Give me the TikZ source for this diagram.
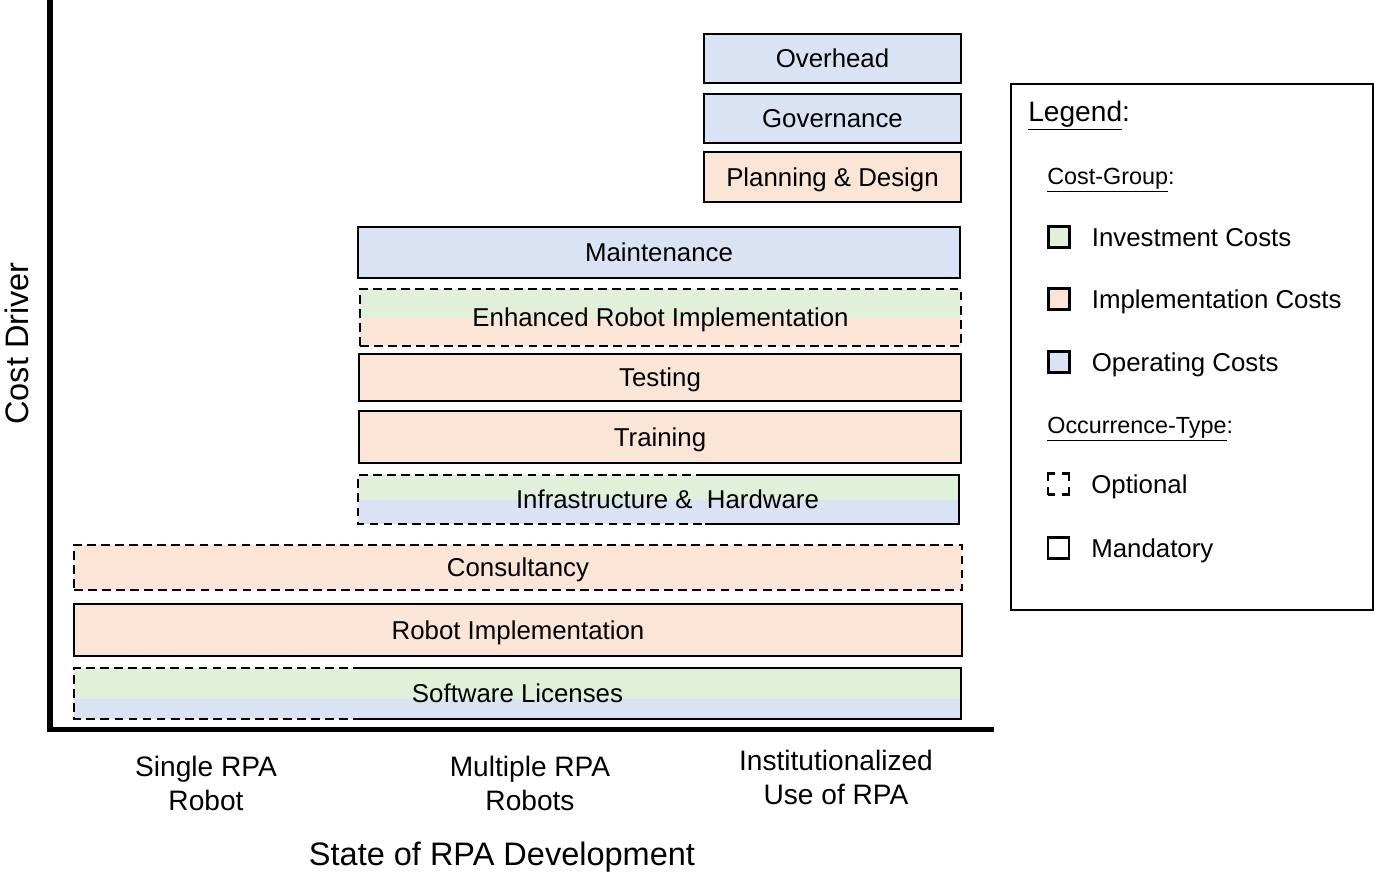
\documentclass[tikz,border=0pt]{standalone}
\usepackage{fontspec}
\setmainfont{Liberation Sans}
\usetikzlibrary{positioning,backgrounds}
\definecolor{investgreen}{HTML}{E2F0D9}
\definecolor{implorange}{HTML}{FBE5D6}
\definecolor{operblue}{HTML}{DAE3F3}
\tikzset{
	bar/.style={
		rectangle,
		line width=1.5pt,
		inner sep=0pt,
		outer sep=0pt,
		font=\fontsize{14.7}{17}\selectfont,
		text height=10.5pt,
		text depth=0pt,
	},
	solidline/.style={
		line width=1.5pt,
	},
	dashedline/.style={
		line width=1.5pt,
		dash pattern=on 5pt off 3pt,
	},
	mandatory/.style={
		bar,
		draw=black,
	},
	optional/.style={
		bar,
		draw=black,
		dashedline,
	},
	barsize/.style 2 args={
		minimum width=#1*0.02cm,
		minimum height=#2*0.02cm,
	},
	axisline/.style={
		line width=3pt,
	},
	legendsq/.style={
		rectangle,
		draw=black,
		line width=1.2pt,
		minimum size=0.42cm,
		inner sep=0pt,
		outer sep=0pt,
	},
	legendtext/.style={
		font=\fontsize{14.7}{17}\selectfont,
		inner sep=0pt,
		text height=10.5pt,
		text depth=0pt,
	},
	legendhead/.style={
		font=\fontsize{13.3}{16}\selectfont,
		inner sep=0pt,
		anchor=base west,
	},
	category/.style={
		align=center,
		font=\fontsize{16}{19.3}\selectfont,
		inner sep=0pt,
	},
	axistitle/.style={
		font=\fontsize{18.5}{22}\selectfont,
		inner sep=0pt,
	},
}

\begin{document}
\begin{tikzpicture}[x=0.02cm,y=-0.02cm,node distance=0.44cm]
	\useasboundingbox (0,0) rectangle (1374,877);

	% axes
	\coordinate (ytop) at (50,0);
	\coordinate (origin) at (50,729.5);
	\coordinate (xend) at (994,729.5);
	\draw[axisline] (ytop) -- (origin) -- (xend);
	\node[axistitle,rotate=90] (ylab) at (17,343.5) {Cost Driver};
	\node[axistitle] (xlab) at (502,857) {State of RPA Development};

	\node[category] (single) at (206,783) {Single RPA\\Robot};
	\node[category] (multiple) at (530,783) {Multiple RPA\\Robots};
	\node[category] (institution) at (836,777.5) {Institutionalized\\Use of RPA};

	% cost drivers
	\node[mandatory,fill=operblue,barsize={257}{49}] (overhead) at (832.5,58.5) {Overhead};
	\node[mandatory,fill=operblue,barsize={257}{49}] (governance) at (832.5,118.5) {Governance};
	\node[mandatory,fill=implorange,barsize={257}{50}] (planning) at (832.5,177) {Planning \& Design};

	\node[mandatory,fill=operblue,barsize={602}{51}] (maintenance) at (659,252.5) {Maintenance};
	\node[optional,barsize={601}{57}] (enhanced) at (660.5,317.5) {Enhanced Robot Implementation};
	\node[mandatory,fill=implorange,barsize={602}{47}] (testing) at (660,377.5) {Testing};
	\node[mandatory,fill=implorange,barsize={602}{52}] (training) at (660,437) {Training};
	\node[bar,barsize={601}{49}] (infra) at (658.5,499.5) {\hspace*{0.36cm}Infrastructure \&~ Hardware};

	\node[optional,fill=implorange,barsize={888}{45}] (consultancy) at (518,567.5) {Consultancy};
	\node[mandatory,fill=implorange,barsize={888}{52}] (robotimpl) at (518,630) {Robot Implementation};
	\node[bar,barsize={887}{51}] (software) at (517.5,693.5) {Software Licenses};

	% two-coloured bars
	\coordinate (software-mid) at (517.5,699);
	\coordinate (software-split) at (362,693.5);
	\coordinate (infra-split) at (705,499.5);
	\begin{scope}[on background layer]
		\fill[investgreen] (enhanced.north west) rectangle (enhanced.east);
		\fill[implorange] (enhanced.west) rectangle (enhanced.south east);
		\fill[investgreen] (infra.north west) rectangle (infra.east);
		\fill[operblue] (infra.west) rectangle (infra.south east);
		\fill[investgreen] (software.north west) rectangle (software-mid -| software.east);
		\fill[operblue] (software-mid -| software.west) rectangle (software.south east);
	\end{scope}
	\draw[dashedline] (infra-split |- infra.north) -- (infra.north west) -- (infra.south west) -- (infra-split |- infra.south);
	\draw[solidline] (infra-split |- infra.north) -- (infra.north east) -- (infra.south east) -- (infra-split |- infra.south);
	\draw[dashedline] (software-split |- software.north) -- (software.north west) -- (software.south west) -- (software-split |- software.south);
	\draw[solidline] (software-split |- software.north) -- (software.north east) -- (software.south east) -- (software-split |- software.south);

	% legend
	\node[draw=black,line width=1pt,minimum width=362*0.02cm,minimum height=526*0.02cm,inner sep=0pt] (legend) at (1192,347) {};
	\node[legendhead,font=\fontsize{16}{19}\selectfont] (legtitle) at (1028,121) {\underline{Legend}:};
	\node[legendhead] (costgroup) at (1047,184) {\underline{Cost-Group}:};
	\node[legendsq,fill=investgreen] (sqinvest) at (1059,237) {};
	\node[legendsq,fill=implorange,below=0.82cm of sqinvest] (sqimpl) {};
	\node[legendsq,fill=operblue,below=0.84cm of sqimpl] (sqoper) {};
	\node[legendtext,right=of sqinvest] (txtinvest) {Investment Costs};
	\node[legendtext,right=of sqimpl] (txtimpl) {Implementation Costs};
	\node[legendtext,right=of sqoper] (txtoper) {Operating Costs};
	\node[legendhead] (occurrence) at (1047,433) {\underline{Occurrence-Type}:};
	\node[legendsq,dash pattern=on 8pt off 3.95pt,dash phase=4pt] (sqoptional) at (1058.5,484) {};
	\node[legendsq,below=0.86cm of sqoptional] (sqmandatory) {};
	\node[legendtext,right=of sqoptional] (txtoptional) {Optional};
	\node[legendtext,right=of sqmandatory] (txtmandatory) {Mandatory};
\end{tikzpicture}
\end{document}
